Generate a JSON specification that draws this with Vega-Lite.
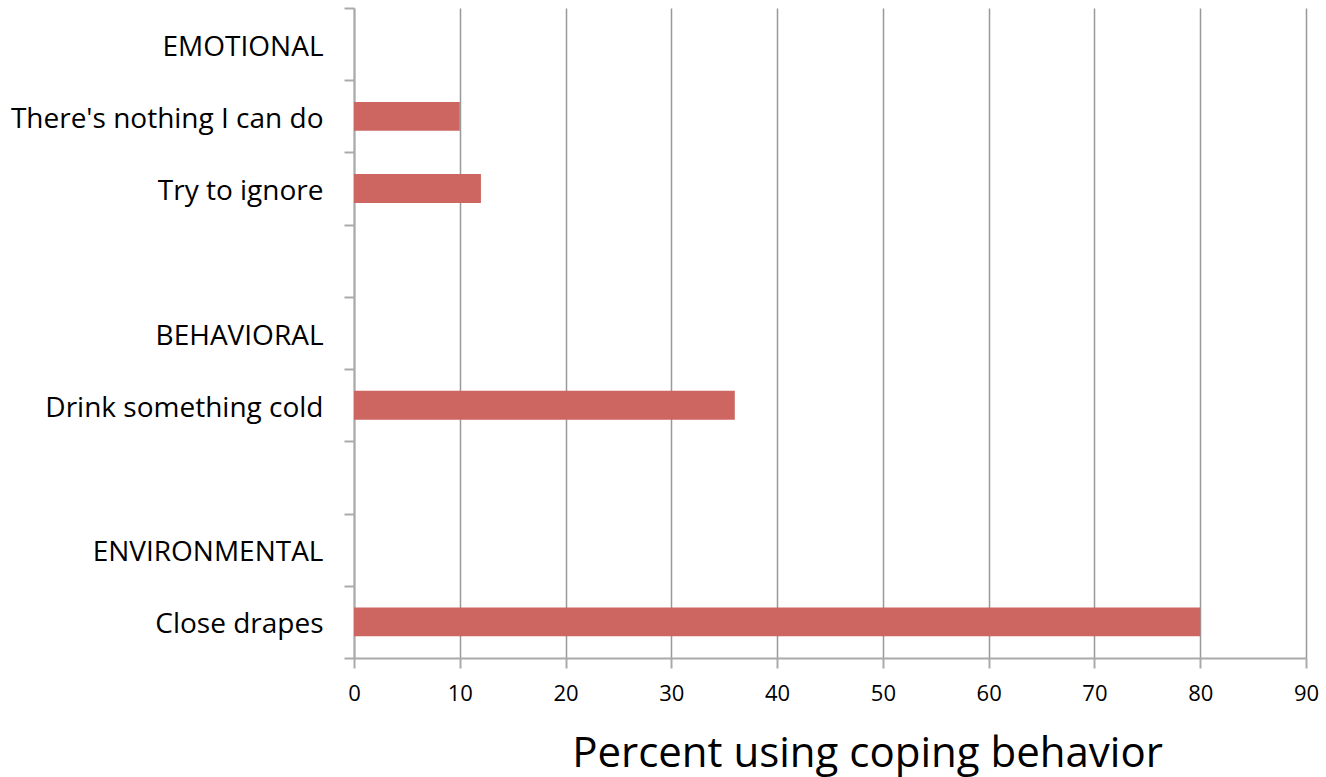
{
  "$schema": "https://vega.github.io/schema/vega-lite/v6.json",
  "autosize": {"type": "none"},
  "padding": {"left": 354, "top": 8, "right": 20, "bottom": 119},
  "width": 952,
  "height": 650,
  "background": "white",
  "config": {
    "view": {"stroke": null},
    "font": "Open Sans"
  },
  "data": {
    "values": [
      {"behavior": "EMOTIONAL", "percent": null},
      {"behavior": "There's nothing I can do", "percent": 10},
      {"behavior": "Try to ignore", "percent": 12},
      {"behavior": " ", "percent": null},
      {"behavior": "BEHAVIORAL", "percent": null},
      {"behavior": "Drink something cold", "percent": 36},
      {"behavior": "  ", "percent": null},
      {"behavior": "ENVIRONMENTAL", "percent": null},
      {"behavior": "Close drapes", "percent": 80}
    ]
  },
  "mark": {"type": "bar", "color": "#cd6660", "height": {"band": 0.4}},
  "encoding": {
    "y": {
      "field": "behavior",
      "type": "nominal",
      "sort": null,
      "scale": {
        "domain": ["EMOTIONAL", "There's nothing I can do", "Try to ignore", " ", "BEHAVIORAL", "Drink something cold", "  ", "ENVIRONMENTAL", "Close drapes"],
        "paddingInner": 0,
        "paddingOuter": 0
      },
      "axis": {
        "title": null,
        "tickBand": "extent",
        "tickSize": 10,
        "tickWidth": 2,
        "tickColor": "#aaaaaa",
        "domainColor": "#aaaaaa",
        "domainWidth": 2,
        "labelFontSize": 28,
        "labelColor": "#000000",
        "labelPadding": 21,
        "labelOffset": 3,
        "labelLimit": 400,
        "grid": false
      }
    },
    "x": {
      "field": "percent",
      "type": "quantitative",
      "scale": {"domain": [0, 90], "nice": false},
      "axis": {
        "values": [0, 10, 20, 30, 40, 50, 60, 70, 80, 90],
        "grid": true,
        "gridColor": "#999999",
        "gridWidth": 1.5,
        "tickSize": 10,
        "tickWidth": 2,
        "tickColor": "#aaaaaa",
        "domainColor": "#aaaaaa",
        "domainWidth": 2,
        "labelFontSize": 22,
        "labelColor": "#000000",
        "labelPadding": 15,
        "labelFlush": false,
        "title": "Percent using coping behavior",
        "titleFontSize": 42,
        "titleFontWeight": "normal",
        "titleColor": "#000000",
        "titleX": 513,
        "titleY": 108,
        "titleAlign": "center",
        "titleBaseline": "alphabetic"
      }
    }
  }
}
